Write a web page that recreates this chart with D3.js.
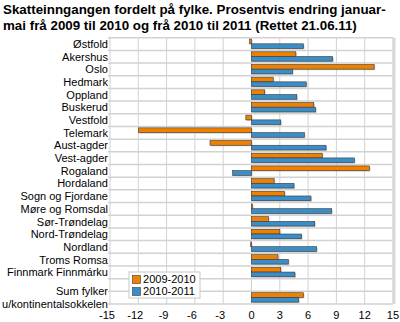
<!DOCTYPE html>
<html><head><meta charset="utf-8">
<script src="https://cdn.jsdelivr.net/npm/d3@7"></script>
<style>body{margin:0;background:#fff}svg{display:block;font-family:"Liberation Sans",Arial,sans-serif}</style>
</head><body><svg id="c" width="400" height="322"></svg>
<script>
const titleLines = ["Skatteinngangen fordelt på fylke. Prosentvis endring januar-",
                    "mai frå 2009 til 2010 og frå 2010 til 2011 (Rettet 21.06.11)"];
const categories = ["Østfold","Akershus","Oslo","Hedmark","Oppland","Buskerud","Vestfold","Telemark",
  "Aust-agder","Vest-agder","Rogaland","Hordaland","Sogn og Fjordane","Møre og Romsdal","Sør-Trøndelag",
  "Nord-Trøndelag","Nordland","Troms Romsa","Finnmark Finnmárku","","Sum fylker\nu/kontinentalsokkelen"];
const seriesNames = ["2009-2010","2010-2011"];
const values0910 = [-0.2,4.7,13.0,2.3,1.4,6.6,-0.6,-12.0,-4.4,7.5,12.5,2.4,3.5,0.1,1.8,3.0,-0.1,2.8,3.1,null,5.5];
const values1011 = [5.5,8.6,4.35,5.8,4.8,6.8,3.1,5.6,7.9,10.9,-2.0,4.5,6.3,8.5,6.7,5.3,6.9,3.9,4.6,null,5.0];
const xTicks = [-15,-12,-9,-6,-3,0,3,6,9,12,15];
const colors = ["#f08000","#3a8dc6"];

const svg = d3.select("#c");
const m = {l:110, r:393, t:37.7, b:304};
const x = d3.scaleLinear().domain([-15,15]).range([m.l, m.r]);
const y = d3.scaleBand().domain(categories.map((d,i)=>i)).range([m.t, m.b]);

function fitSize(str, base, bold, target){
  const t = svg.append("text").attr("font-size",base).attr("font-weight",bold?"bold":"normal").text(str);
  const w = t.node().getComputedTextLength(); t.remove();
  return base*target/w;
}
const titleFs = fitSize(titleLines[0], 15, true, 383);
const labFs = Math.min(12, fitSize("u/kontinentalsokkelen", 12, false, 106));

// title
svg.append("g").selectAll("text").data(titleLines).join("text")
  .attr("x",3).attr("y",(d,i)=>14+i*16)
  .attr("font-size",titleFs).attr("font-weight","bold").attr("fill","#000").text(d=>d);

// grid
const grid = svg.append("g");
grid.selectAll("line.v").data(xTicks).join("line").attr("class","v")
  .attr("x1",d=>x(d)).attr("x2",d=>x(d)).attr("y1",m.t).attr("y2",m.b)
  .attr("stroke","#d2d2d2").attr("stroke-width",1);
const hb = categories.map((d,i)=>y(i)).concat([m.b]);
grid.selectAll("line.h").data(hb).join("line").attr("class","h")
  .attr("x1",m.l-2).attr("x2",m.r).attr("y1",d=>d).attr("y2",d=>d)
  .attr("stroke","#d2d2d2").attr("stroke-width",1.5);
grid.append("line").attr("x1",m.r+1).attr("x2",m.r+1).attr("y1",m.t).attr("y2",m.b)
  .attr("stroke","#d8d8d8").attr("stroke-width",3);

// bars
const bh = 4.7, off = 1.4;
const series = [values0910, values1011];
series.forEach((vals, s) => {
  const g = svg.append("g");
  const data = vals.map((v,i)=>({v,i})).filter(d=>d.v!==null);
  g.selectAll("rect.sh").data(data).join("rect").attr("class","sh")
    .attr("x",d=>Math.min(x(0),x(d.v))+1).attr("y",d=>y(d.i)+off+s*bh+1)
    .attr("width",d=>Math.abs(x(d.v)-x(0))).attr("height",bh)
    .attr("fill","#999").attr("opacity",0.55);
  g.selectAll("rect.b").data(data).join("rect").attr("class","b")
    .attr("x",d=>Math.min(x(0),x(d.v))).attr("y",d=>y(d.i)+off+s*bh)
    .attr("width",d=>Math.max(0.6,Math.abs(x(d.v)-x(0)))).attr("height",bh)
    .attr("fill",colors[s]).attr("stroke","#3a3a3a").attr("stroke-width",0.6);
});

// y labels
const yl = svg.append("g");
categories.forEach((c,i)=>{
  const lines = c.split("\n");
  const cy = y(i)+y.bandwidth()/2;
  lines.forEach((ln,k)=>{
    yl.append("text").attr("x",108).attr("y",cy + (k-(lines.length-1)/2)*13 + labFs*0.36)
      .attr("text-anchor","end").attr("font-size",labFs).attr("fill","#000").text(ln);
  });
});

// x tick labels
svg.append("g").selectAll("text").data(xTicks).join("text")
  .attr("x",d=>x(d)-(d<0?3:0)).attr("y",318.5).attr("text-anchor","middle")
  .attr("font-size",labFs).attr("fill","#000").text(d=>d);

// legend
const lg = svg.append("g").attr("transform","translate(129,272)");
lg.append("rect").attr("width",71).attr("height",26).attr("fill","#fff").attr("stroke","#c8c8c8");
seriesNames.forEach((n,i)=>{
  lg.append("rect").attr("x",3.5).attr("y",3.5+i*12).attr("width",8).attr("height",8)
    .attr("fill",colors[i]).attr("stroke","#3a3a3a").attr("stroke-width",0.6);
  lg.append("text").attr("x",14).attr("y",7.5+i*12+labFs*0.36).attr("font-size",labFs).attr("fill","#000").text(n);
});
</script></body></html>
